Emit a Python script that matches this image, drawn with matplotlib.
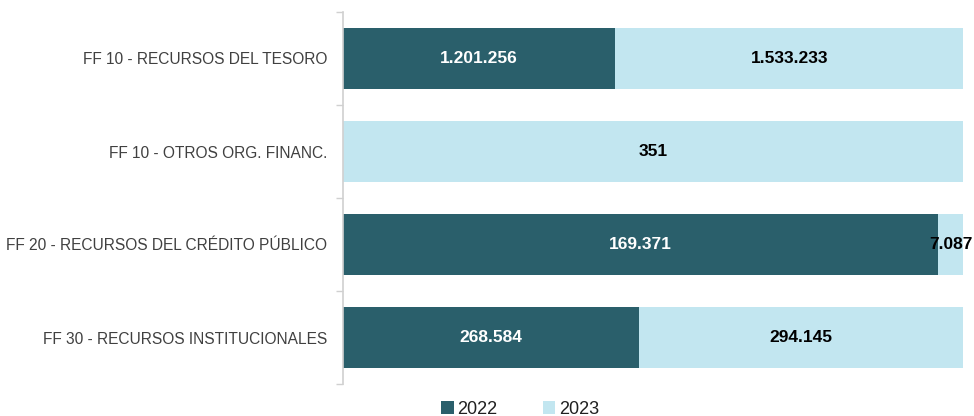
import numpy as np
import matplotlib.pyplot as plt

categories = ['FF 10 - RECURSOS DEL TESORO',
              'FF 10 - OTROS ORG. FINANC.',
              'FF 20 - RECURSOS DEL CRÉDITO PÚBLICO',
              'FF 30 - RECURSOS INSTITUCIONALES']
values_2022 = [1201256, 0, 169371, 268584]
values_2023 = [1533233, 351, 7087, 294145]
series_names = ['2022', '2023']

color_2022 = '#2a5f6b'
color_2023 = '#c2e6f0'


def fmt(v):
    # miles con punto
    return '{:,}'.format(v).replace(',', '.')


plt.rcParams['font.family'] = ['Liberation Sans', 'DejaVu Sans']

fig = plt.figure(figsize=(9.74, 4.16), dpi=100)
ax = fig.add_axes([343 / 974, 1 - 384 / 416, 620 / 974, 372 / 416])

v22 = np.array(values_2022, dtype=float)
v23 = np.array(values_2023, dtype=float)
total = v22 + v23
p22 = v22 / total
p23 = v23 / total
y = np.arange(len(categories))

b1 = ax.barh(y, p22, height=0.665, color=color_2022, label=series_names[0])
b2 = ax.barh(y, p23, left=p22, height=0.665, color=color_2023, label=series_names[1])

for i in range(len(categories)):
    if v22[i] > 0:
        ax.text(p22[i] / 2, y[i], fmt(values_2022[i]), ha='center', va='center',
                color='white', fontsize=12.5, fontweight='bold')
    if v23[i] > 0:
        ax.text(p22[i] + p23[i] / 2, y[i], fmt(values_2023[i]), ha='center', va='center',
                color='black', fontsize=12.5, fontweight='bold')

ax.set_xlim(0, 1)
ax.set_ylim(len(categories) - 0.5, -0.5)
ax.set_yticks(y)
ax.set_yticklabels(categories, fontsize=11.2, color='#404040')
ax.set_yticks(np.arange(-0.5, len(categories)), minor=True)
ax.tick_params(axis='y', which='major', length=0, pad=11.5)
ax.tick_params(axis='y', which='minor', length=5, color='#d0d0d0', width=1)
ax.set_xticks([])
for s in ['top', 'right', 'bottom']:
    ax.spines[s].set_visible(False)
ax.spines['left'].set_color('#d0d0d0')
ax.spines['left'].set_linewidth(1.2)

leg = fig.legend(handles=[b1, b2], loc='center', bbox_to_anchor=(520 / 974, 1 - 409 / 416),
                 ncol=2, frameon=False, fontsize=13, handlelength=0.7, handleheight=0.7,
                 handletextpad=0.2, columnspacing=2.5)
for t in leg.get_texts():
    t.set_color('#202020')

fig.savefig('out.png', dpi=100)
